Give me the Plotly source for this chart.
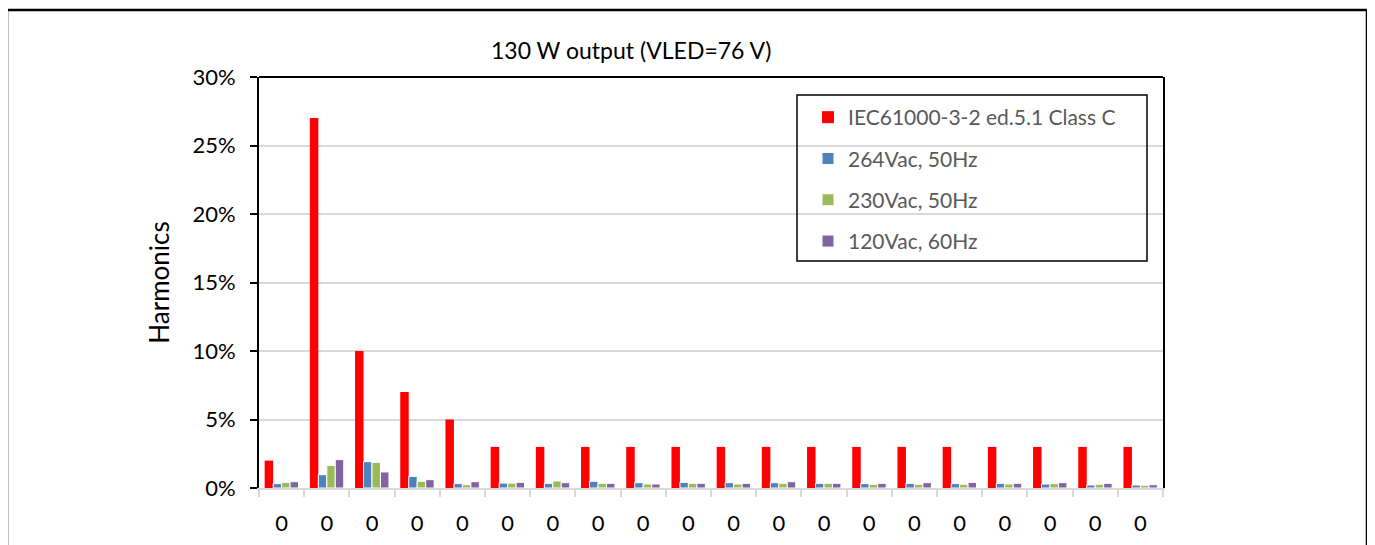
import plotly.graph_objects as go

# Harmonic orders (categories) and displayed tick labels
harmonic_orders = ["2", "3", "5", "7", "9", "11", "13", "15", "17", "19",
                   "21", "23", "25", "27", "29", "31", "33", "35", "37", "39"]
tick_labels = ["0"] * 20

# Values in percent
iec_limit = [2, 27, 10, 7, 5, 3, 3, 3, 3, 3, 3, 3, 3, 3, 3, 3, 3, 3, 3, 3]
v264_50 = [0.32, 0.97, 1.92, 0.85, 0.32, 0.36, 0.34, 0.49, 0.39, 0.41,
           0.39, 0.39, 0.34, 0.32, 0.34, 0.32, 0.34, 0.29, 0.22, 0.22]
v230_50 = [0.41, 1.65, 1.87, 0.49, 0.24, 0.36, 0.51, 0.34, 0.29, 0.34,
           0.29, 0.34, 0.34, 0.27, 0.27, 0.27, 0.29, 0.32, 0.27, 0.20]
v120_60 = [0.46, 2.07, 1.17, 0.61, 0.46, 0.41, 0.39, 0.34, 0.29, 0.34,
           0.34, 0.46, 0.34, 0.34, 0.39, 0.41, 0.34, 0.39, 0.34, 0.24]

series = [
    ("IEC61000-3-2 ed.5.1 Class C", iec_limit, "#FF0000", 0),
    ("264Vac, 50Hz", v264_50, "#4F81BD", 1),
    ("230Vac, 50Hz", v230_50, "#9BBB59", 1),
    ("120Vac, 60Hz", v120_60, "#8064A2", 1),
]

FONT = "Lato"
fig = go.Figure()
for i, (name, vals, color, lw) in enumerate(series):
    fig.add_trace(go.Bar(
        x=harmonic_orders, y=[v / 100 for v in vals], name=name,
        marker=dict(color=color, line=dict(color="white", width=lw)),
        legendgroup=f"g{i}",
    ))

OFF = 8  # page body margin
W, H = 1375, 545
# plot area in page pixels: x 259..1163, y 77..488
L = 259 - OFF
T = 77 - OFF
R = W - (1163 - OFF)
B = H - (488 - OFF)
pw, ph = W - L - R, H - T - B

def px_x(x):  # page pixel -> paper
    return (x - OFF - L) / pw

def px_y(y):
    return (H - B - (y - OFF)) / ph

fig.update_layout(
    width=W, height=H,
    margin=dict(l=L, r=R, t=T, b=B),
    paper_bgcolor="white", plot_bgcolor="white",
    barmode="group", bargap=0.25, bargroupgap=0.0,
    font=dict(family=FONT, color="black"),
    showlegend=True,
    legend=dict(
        x=px_x(808), y=px_y(97), xanchor="left", yanchor="top",
        font=dict(size=21, color="#595959", family=FONT),
        bgcolor="rgba(0,0,0,0)", borderwidth=0,
        traceorder="grouped", tracegroupgap=11, itemwidth=30,
    ),
    xaxis=dict(
        type="category",
        tickvals=harmonic_orders, ticktext=tick_labels,
        tickson="boundaries", ticks="outside", ticklen=7,
        tickcolor="#D9D9D9", tickwidth=2,
        showline=True, linecolor="#D9D9D9", linewidth=2,
        showgrid=False,
        tickfont=dict(size=22, color="black", family=FONT),
        ticklabelstandoff=15,
    ),
    yaxis=dict(
        range=[0, 0.30], dtick=0.05, tickformat=".0%",
        showline=True, linecolor="black", linewidth=2, mirror=True,
        ticks="outside", ticklen=7, tickcolor="black", tickwidth=2,
        showgrid=True, gridcolor="#D9D9D9", gridwidth=2,
        zeroline=False,
        tickfont=dict(size=22, color="black", family=FONT),
        ticklabelstandoff=10,
        title=dict(text="Harmonics", font=dict(size=26, color="black", family=FONT), standoff=15),
    ),
    annotations=[dict(
        text="130 W output (VLED=76 V)", xref="paper", yref="paper",
        x=px_x(631), y=px_y(50), xanchor="center", yanchor="middle",
        showarrow=False, font=dict(size=23, color="black", family=FONT),
    )],
    shapes=[
        # top frame line of plot area
        dict(type="line", xref="paper", yref="paper", x0=0, x1=1, y0=1, y1=1,
             line=dict(color="black", width=2)),
        # legend box
        dict(type="rect", xref="paper", yref="paper",
             x0=px_x(797), x1=px_x(1147), y0=px_y(261), y1=px_y(95),
             line=dict(color="black", width=1.5)),
        # outer chart border
        dict(type="rect", xref="paper", yref="paper",
             x0=px_x(7), x1=px_x(1367), y0=px_y(600), y1=px_y(10),
             line=dict(color="black", width=2.5)),
    ],
)

fig.write_html("out.html")
